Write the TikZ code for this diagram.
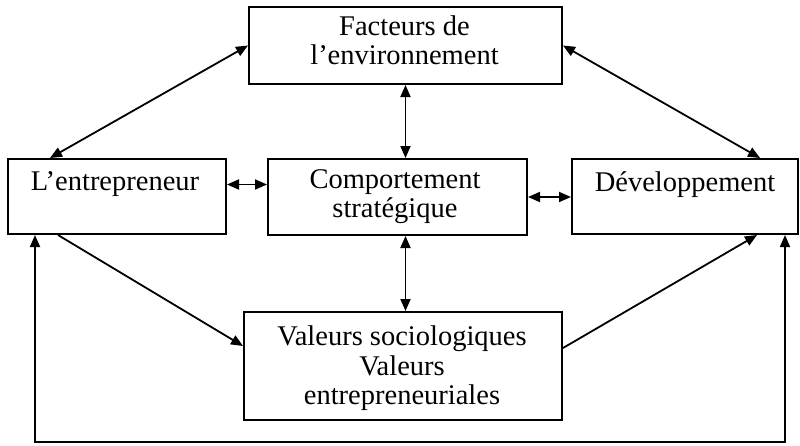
\documentclass[tikz,border=0pt]{standalone}
\usepackage{fontspec}
\setmainfont{Liberation Serif}
\usetikzlibrary{arrows.meta}
\begin{document}
\begin{tikzpicture}[x=1pt,y=-1pt,
  box/.style={draw, line width=2pt, rectangle, inner sep=0pt, anchor=north west},
  txt/.style={anchor=base, inner sep=0pt, font=\fontsize{28.5}{30}\selectfont},
  conn/.style={line width=1.8pt},
  both/.style={conn, {Triangle[length=12pt,width=10pt]}-{Triangle[length=12pt,width=10pt]}},
  one/.style={conn, -{Triangle[length=12pt,width=10pt]}}]
\useasboundingbox (0,0) rectangle (800,445);
% boxes
\node[box, minimum width=313pt, minimum height=77pt] (top) at (248,6) {};
\node[box, minimum width=218pt, minimum height=75pt] (ent) at (7,158) {};
\node[box, minimum width=259pt, minimum height=76pt] (mid) at (267,158) {};
\node[box, minimum width=226pt, minimum height=75pt] (dev) at (571,158) {};
\node[box, minimum width=318pt, minimum height=108pt] (bot) at (243,311) {};
% texts
\node[txt] (t1) at (404.5,35) {Facteurs de};
\node[txt] (t2) at (404.5,64) {l’environnement};
\node[txt] (t3) at (115,190) {L’entrepreneur};
\node[txt] (t4) at (395,188) {Comportement};
\node[txt] (t5) at (395,217) {stratégique};
\node[txt] (t6) at (685,191) {Développement};
\node[txt] (t7) at (402,345) {Valeurs sociologiques};
\node[txt] (t8) at (402,375) {Valeurs};
\node[txt] (t9) at (402,404) {entrepreneuriales};
% connectors
\draw[both] (top.west) -- ([xshift=43pt]ent.north west);
\draw[both] (top.east) -- ([xshift=189pt]dev.north west);
\draw[both] (top.south) -- (top.south |- mid.north);
\draw[both] ([yshift=12pt]ent.east) -- ([yshift=12pt]ent.east -| mid.west);
\draw[both] (mid.east) -- (mid.east -| dev.west);
\draw[both] (top.south |- mid.south) -- (top.south |- bot.north);
\draw[one] ([xshift=51pt]ent.south west) -- ([yshift=20pt]bot.west);
\draw[one] ([yshift=18pt]bot.east) -- ([xshift=186pt]dev.south west);
\coordinate (fl) at (35,442);
\coordinate (fr) at (785,442);
\draw[both] (ent.south -| fl) -- (fl) -- (fr) -- (dev.south -| fr);
\end{tikzpicture}
\end{document}
